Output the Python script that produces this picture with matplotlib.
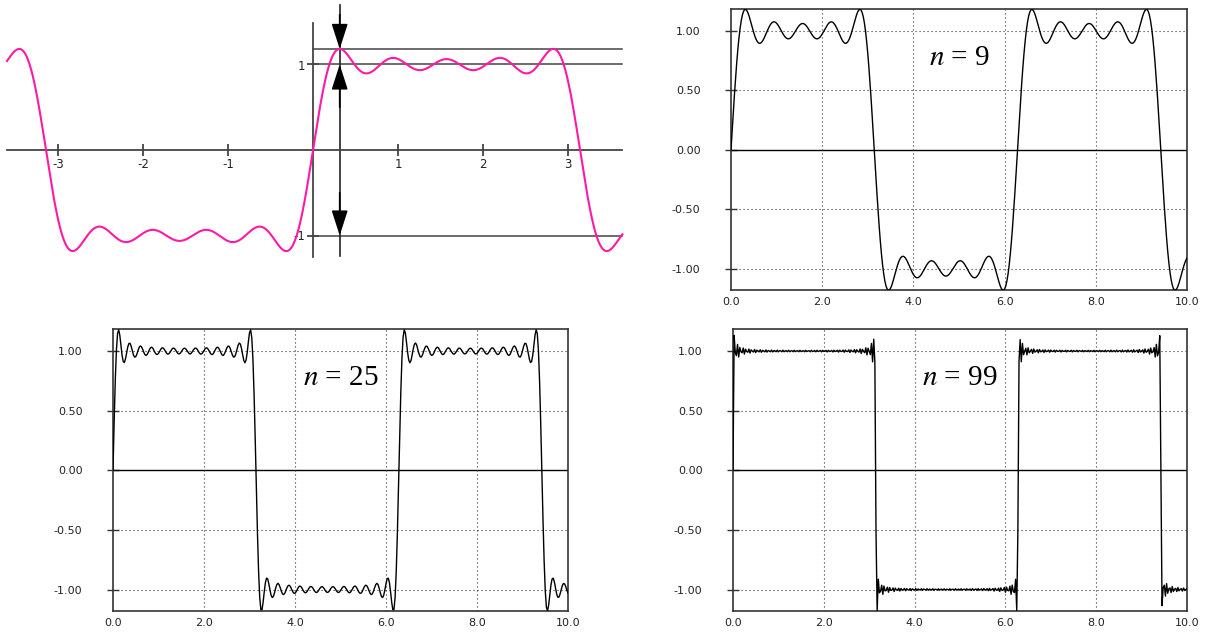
import numpy as np
import matplotlib.pyplot as plt

plt.rcParams['mathtext.fontset'] = 'stix'

# harmonic count (highest odd term) shown in each panel
nTopLeft = 9
nPanels = [9, 25, 99]
panelLabels = ['$n$ = 9', '$n$ = 25', '$n$ = 99']

# top-left sketch: x span and ticks
sketchRange = (-3.6, 3.64)
sketchXTicks = [-3, -2, -1, 1, 2, 3]
sketchYTicks = [-1, 1]

# framed panels: x span, ticks and tick labels
panelRange = (0.0, 10.0)
panelXTicks = [0, 2, 4, 6, 8, 10]
panelXLabels = ['0.0', '2.0', '4.0', '6.0', '8.0', '10.0']
panelYTicks = [-1, -0.5, 0, 0.5, 1]
panelYLabels = ['-1.00', '-0.50', '0.00', '0.50', '1.00']

PINK = '#ff1aa6'
DOT = (0, (1, 2.6))


def squareWaveSum(x, n):
	total = np.zeros_like(x)
	for k in range(1, n + 1, 2):
		total = total + np.sin(k * x) / k
	return 4 / np.pi * total


def sketchPanel(fig):
	ax = fig.add_axes([0, 1 - 300 / 632, 640 / 1208, 300 / 632])
	ax.set_xlim(-313 / 85, 327 / 85)
	ax.set_ylim(-150 / 85.5, 150 / 85.5)

	x = np.linspace(sketchRange[0], sketchRange[1], 1200)
	y = squareWaveSum(x, nTopLeft)
	ax.plot(x, y, color=PINK, lw=1.5, zorder=3)

	peak = y[(x > 0) & (x < 1)].max()
	xPeak = np.pi / (nTopLeft + 1)

	for sp in ['top', 'right']:
		ax.spines[sp].set_visible(False)
	ax.spines['left'].set_position('zero')
	ax.spines['bottom'].set_position('zero')
	ax.spines['left'].set_bounds(-1.25, 1.49)
	ax.spines['bottom'].set_bounds(sketchRange[0], sketchRange[1])
	for sp in ['left', 'bottom']:
		ax.spines[sp].set_color('#444444')
		ax.spines[sp].set_linewidth(1.3)

	ax.set_xticks(sketchXTicks)
	ax.set_xticklabels([str(t) for t in sketchXTicks])
	ax.set_yticks(sketchYTicks)
	ax.set_yticklabels([str(t) for t in sketchYTicks])
	ax.tick_params(direction='inout', length=9, width=1.3, color='#444444',
		labelsize=8.5, labelcolor='#222222', pad=1)

	for level in [peak, 1, -1]:
		ax.plot([0, sketchRange[1]], [level, level], color='#444444', lw=1.1)
	ax.plot([xPeak, xPeak], [-1.24, 1.7], color='#222222', lw=1.2)

	arrow = dict(arrowstyle='-|>,head_length=1.55,head_width=0.5', color='black',
		shrinkA=0, shrinkB=0, lw=1.2)
	ax.annotate('', xy=(xPeak, peak), xytext=(xPeak, peak + 0.4), arrowprops=arrow)
	ax.annotate('', xy=(xPeak, 1), xytext=(xPeak, 0.5), arrowprops=arrow)
	ax.annotate('', xy=(xPeak, -1), xytext=(xPeak, -0.5), arrowprops=arrow)


def framedPanel(fig, rect, n, label):
	ax = fig.add_axes(rect)
	x = np.linspace(panelRange[0], panelRange[1], 401)
	ax.plot(x, squareWaveSum(x, n), color='black', lw=1.0, zorder=3)
	ax.set_xlim(panelRange)
	ax.set_ylim(-1.18, 1.185)

	ax.axhline(0, color='black', lw=1.0)
	for gx in panelXTicks[1:-1]:
		ax.axvline(gx, color='#333333', lw=0.8, ls=DOT)
	for gy in [-1, -0.5, 0.5, 1]:
		ax.axhline(gy, color='#333333', lw=0.8, ls=DOT)

	ax.set_xticks(panelXTicks)
	ax.set_xticklabels(panelXLabels)
	ax.set_yticks(panelYTicks)
	ax.set_yticklabels(panelYLabels)
	ax.tick_params(axis='x', length=0, pad=5, labelsize=8, labelcolor='#222222')
	ax.tick_params(axis='y', direction='inout', length=8, width=1, color='#333333',
		pad=18, labelsize=8, labelcolor='#222222')
	for sp in ax.spines.values():
		sp.set_color('#333333')
		sp.set_linewidth(1.2)

	ax.text(5.0, 0.77, label, fontsize=21, family='Liberation Serif',
		ha='center', va='center')


def main():
	fig = plt.figure(figsize=(12.08, 6.32), dpi=100)
	sketchPanel(fig)

	W, H = 1208, 632
	rects = [
		[731 / W, 1 - 290 / H, 456 / W, 281 / H],
		[113 / W, 1 - 611 / H, 455 / W, 282 / H],
		[733 / W, 1 - 611 / H, 454 / W, 282 / H],
	]
	for rect, n, label in zip(rects, nPanels, panelLabels):
		framedPanel(fig, rect, n, label)

	fig.savefig('out.png', dpi=100)


if __name__ == "__main__":
	main()
